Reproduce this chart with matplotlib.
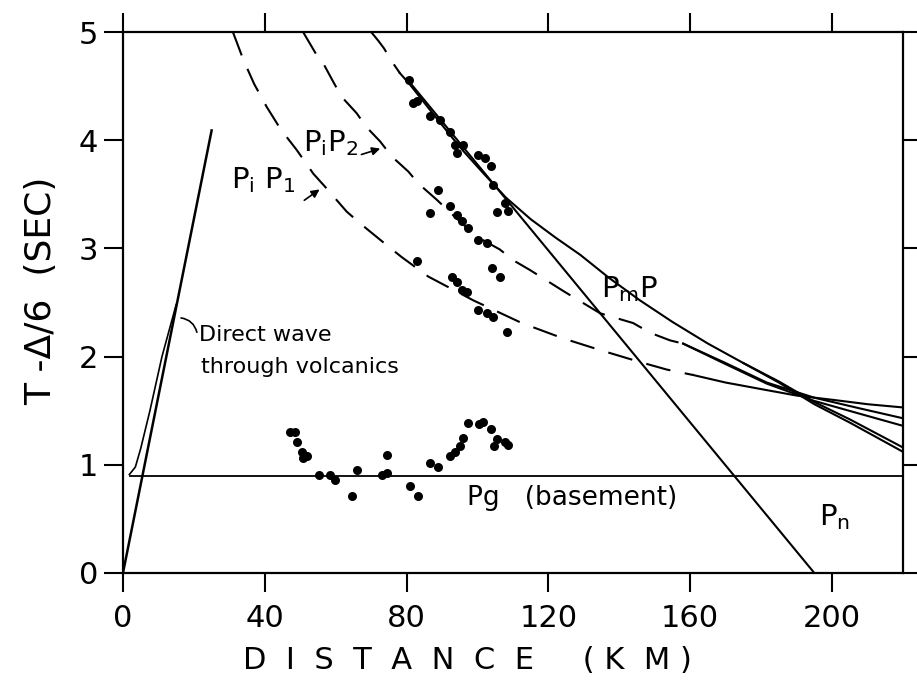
import numpy as np
import matplotlib
matplotlib.use("Agg")
import matplotlib.pyplot as plt

plt.rcParams['font.family'] = ['DejaVu Sans']

# --- data (distance km, reduced time s) ---
pip1_dash_x = [31.0, 34.0, 37.0, 40.5, 44.5, 49.0, 53.7, 57.0, 63.1, 67.3, 74.4, 78.6,
               86.1, 91.3, 98.8, 112.5, 124.0, 134.6, 145.8, 153.4, 160.8]
pip1_dash_y = [5.0, 4.74, 4.52, 4.31, 4.10, 3.91, 3.69, 3.57, 3.34, 3.22, 3.03, 2.92,
               2.74, 2.65, 2.52, 2.31, 2.17, 2.06, 1.95, 1.88, 1.83]
pip1_x = [160.8, 170.0, 181.6, 190.0, 200.3, 210.0, 220.0]
pip1_y = [1.83, 1.76, 1.69, 1.64, 1.60, 1.56, 1.53]

pip2_dash_x = [50.8, 54.4, 56.5, 59.3, 61.7, 65.9, 68.7, 72.5, 75.8, 80.5, 83.3, 88.5,
               94.0, 99.7, 106.3, 110.1, 114.8, 124.5, 134.6, 143.9, 148.7, 154.3, 158.0]
pip2_dash_y = [5.0, 4.8, 4.71, 4.54, 4.40, 4.25, 4.12, 3.99, 3.85, 3.71, 3.60, 3.45,
               3.28, 3.11, 2.99, 2.89, 2.80, 2.60, 2.40, 2.31, 2.22, 2.15, 2.12]
pip2_x = [158.0, 170.0, 181.6, 195.0, 208.0, 220.0]
pip2_y = [2.12, 1.94, 1.76, 1.62, 1.52, 1.43]
pip2b_x = [158.0, 170.0, 181.6, 195.0, 208.0, 220.0]
pip2b_y = [2.12, 1.93, 1.75, 1.59, 1.47, 1.36]

pmp_dash_x = [70.0, 72.0, 73.6, 76.0, 78.1]
pmp_dash_y = [5.0, 4.92, 4.85, 4.72, 4.62]
pmp_x = [78.1, 80.8, 86.6, 92.2, 96.0, 101.5, 108.0, 115.0, 122.0, 129.0, 137.0,
         145.8, 155.0, 165.0, 175.0, 185.0, 195.0, 205.0, 220.0]
pmp_y = [4.62, 4.52, 4.28, 4.05, 3.90, 3.70, 3.47, 3.27, 3.10, 2.94, 2.73,
         2.52, 2.32, 2.12, 1.94, 1.77, 1.58, 1.42, 1.16]
pmp2_x = [175.0, 185.0, 195.0, 205.0, 220.0]
pmp2_y = [1.94, 1.76, 1.56, 1.39, 1.12]

pn_x = [80.0, 195.0]
pn_y = [4.57, 0.0]

pg_x = [2.0, 220.0]
pg_y = [0.9, 0.9]

direct_x = [0.0, 25.0]
direct_y = [0.0, 4.09]
direct2_x = [1.8, 3.5, 5.0, 7.6, 11.0, 15.0]
direct2_y = [0.91, 0.98, 1.15, 1.50, 2.00, 2.48]

# observed arrivals
obs_x = [80.8, 82.8, 81.9, 86.6, 89.3, 92.2, 93.7, 96.0, 94.3, 100.2, 102.1, 103.7,
         104.5, 88.9, 107.8, 108.7, 86.6, 105.4, 92.2, 94.1, 95.5, 97.4, 100.2, 102.6,
         104.0, 106.3, 82.8, 92.7, 94.1, 95.5, 96.9, 100.2, 102.6, 104.5, 108.2,
         47.1, 48.5, 49.2, 50.4, 50.9, 51.8, 55.4, 58.4, 59.8, 64.5, 66.1, 73.0,
         74.4, 74.4, 81.0, 83.3, 86.6, 88.9, 92.2, 93.7, 95.1, 95.8, 97.4, 100.5,
         101.6, 103.7, 105.4, 104.6, 107.8, 108.7]
obs_y = [4.56, 4.36, 4.34, 4.22, 4.19, 4.08, 3.96, 3.96, 3.88, 3.86, 3.84, 3.76,
         3.59, 3.54, 3.42, 3.35, 3.33, 3.34, 3.39, 3.31, 3.25, 3.19, 3.08, 3.05,
         2.82, 2.74, 2.88, 2.74, 2.69, 2.62, 2.60, 2.43, 2.40, 2.37, 2.23,
         1.30, 1.30, 1.21, 1.12, 1.06, 1.08, 0.91, 0.91, 0.86, 0.71, 0.95, 0.91,
         1.09, 0.92, 0.80, 0.71, 1.02, 0.98, 1.08, 1.12, 1.17, 1.25, 1.39, 1.38,
         1.40, 1.33, 1.24, 1.17, 1.21, 1.18]

xticks = [0, 40, 80, 120, 160, 200]
yticks = [0, 1, 2, 3, 4, 5]

fig = plt.figure(figsize=(9.17, 6.84), dpi=100)
ax = fig.add_axes([0.1341, 0.1623, 0.8506, 0.7909])

lw = 1.5
dash = (12, 7)
ax.plot(pip1_dash_x, pip1_dash_y, color='black', lw=lw, dashes=dash)
ax.plot(pip1_x, pip1_y, color='black', lw=lw)
ax.plot(pip2_dash_x, pip2_dash_y, color='black', lw=lw, dashes=dash)
ax.plot(pip2_x, pip2_y, color='black', lw=lw)
ax.plot(pip2b_x, pip2b_y, color='black', lw=lw)
ax.plot(pmp_dash_x, pmp_dash_y, color='black', lw=lw, dashes=dash)
ax.plot(pmp_x, pmp_y, color='black', lw=lw)
ax.plot(pmp2_x, pmp2_y, color='black', lw=lw)
ax.plot(pn_x, pn_y, color='black', lw=lw)
ax.plot(pg_x, pg_y, color='black', lw=1.3)
ax.plot(direct_x, direct_y, color='black', lw=1.8)
ax.plot(direct2_x, direct2_y, color='black', lw=1.2)
ax.plot(obs_x, obs_y, 'o', color='black', ms=6.5, mec='none')

ax.set_xlim(0, 220)
ax.set_ylim(0, 5)
ax.set_xticks(xticks)
ax.set_yticks(yticks)
ax.tick_params(direction='out', length=14, width=1.5, labelsize=22,
               top=True, right=True, labeltop=False, labelright=False)
ax.tick_params(axis='x', pad=8)
ax.tick_params(axis='y', pad=4)
for s in ax.spines.values():
    s.set_linewidth(1.6)

# axis titles
fig.text(0.045, 0.575, 'T -Δ/6  (SEC)', rotation=90, fontsize=26,
         ha='center', va='center')
fig.text(0.51, 0.035, 'D  I  S  T  A  N  C  E     ( K  M )', fontsize=22,
         ha='center', va='center')

# annotations
ax.text(21.5, 2.2, 'Direct wave', fontsize=16, ha='left', va='center')
ax.text(22.0, 1.9, 'through volcanics', fontsize=16, ha='left', va='center')
ax.annotate('', xy=(15.6, 2.36), xytext=(21.0, 2.2),
            arrowprops=dict(arrowstyle='-', color='black', lw=1.2,
                            connectionstyle='arc3,rad=0.4'))

ax.text(58.4, 3.97, r'P$_\mathregular{i}$P$_\mathregular{2}$', fontsize=21,
        ha='center', va='center')
ax.annotate('', xy=(73.3, 3.93), xytext=(66.5, 3.86),
            arrowprops=dict(arrowstyle='-|>', color='black', lw=1.2,
                            mutation_scale=12))
ax.text(39.5, 3.63, r'P$_\mathregular{i}$ P$_\mathregular{1}$', fontsize=21,
        ha='center', va='center')
ax.annotate('', xy=(56.1, 3.56), xytext=(50.5, 3.43),
            arrowprops=dict(arrowstyle='-|>', color='black', lw=1.2,
                            mutation_scale=12))
ax.text(143.0, 2.62, r'P$_\mathregular{m}$P', fontsize=21, ha='center', va='center')
ax.text(200.8, 0.52, r'P$_\mathregular{n}$', fontsize=21, ha='center', va='center')
ax.text(97.0, 0.69, 'Pg   (basement)', fontsize=19, ha='left', va='center')

fig.savefig('out.png', dpi=100)
